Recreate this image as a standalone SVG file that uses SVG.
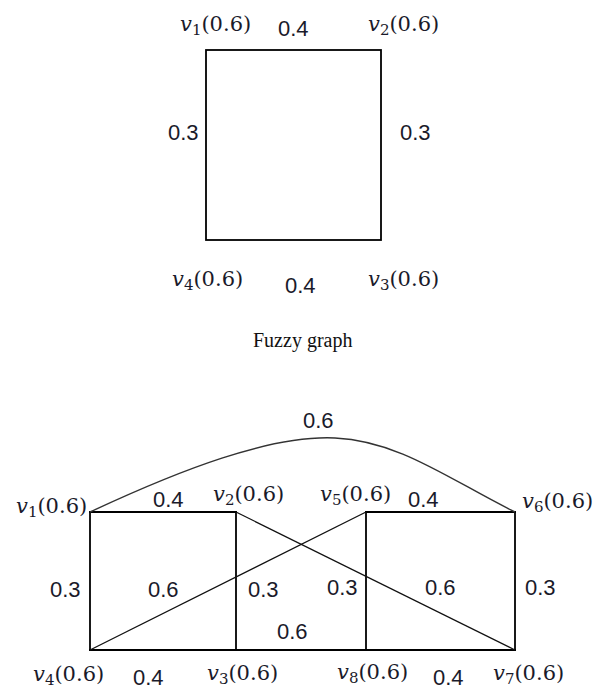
<svg xmlns="http://www.w3.org/2000/svg" width="599" height="689" viewBox="0 0 599 689">
<style>
.e{stroke:#000;stroke-width:1.8;fill:none;stroke-linecap:square}
.d{stroke:#111;stroke-width:1.3;fill:none}
.c{stroke:#333;stroke-width:1.4;fill:none}
.v{font-family:"DejaVu Serif","Liberation Serif",serif;font-size:21px;fill:#1a1a2a}
.v .i{font-style:italic}
.w{font-family:"Liberation Sans",Arial,sans-serif;font-size:22px;fill:#1a1a2a}
.t{font-family:"Liberation Serif","Times New Roman",serif;font-size:20px;fill:#111}
</style>
<rect width="599" height="689" fill="#fff"/>
<g id="connectors">
<rect class="e" x="206" y="50" width="175" height="190"/>
<line class="e" x1="90" y1="512" x2="236" y2="512"/>
<line class="e" x1="366" y1="512" x2="515" y2="512"/>
<line class="e" x1="90" y1="650" x2="515" y2="650"/>
<line class="e" x1="90" y1="512" x2="90" y2="650"/>
<line class="e" x1="236" y1="512" x2="236" y2="650"/>
<line class="e" x1="366" y1="512" x2="366" y2="650"/>
<line class="e" x1="515" y1="512" x2="515" y2="650"/>
<line class="d" x1="236" y1="512" x2="515" y2="650"/>
<line class="d" x1="366" y1="512" x2="90" y2="650"/>
<path class="c" d="M90,512 C180,470 270,435 335,438 C400,441 450,480 515,512"/>
<g class="w">
<text x="278" y="36">0.4</text>
<text x="168" y="140">0.3</text>
<text x="400" y="140">0.3</text>
<text x="285" y="293">0.4</text>
<text x="303" y="428">0.6</text>
<text x="153" y="507">0.4</text>
<text x="408" y="507">0.4</text>
<text x="50" y="597">0.3</text>
<text x="148" y="597">0.6</text>
<text x="248" y="597">0.3</text>
<text x="327" y="595">0.3</text>
<text x="425" y="595">0.6</text>
<text x="525" y="595">0.3</text>
<text x="277" y="639">0.6</text>
<text x="133" y="685">0.4</text>
<text x="433" y="685">0.4</text>
</g>
</g>
<g id="g1-v1"><text class="v" x="180" y="31"><tspan class="i">v</tspan><tspan font-size="15" dy="4">1</tspan><tspan dy="-4">(0.6)</tspan></text></g>
<g id="g1-v2"><text class="v" x="368" y="31"><tspan class="i">v</tspan><tspan font-size="15" dy="4">2</tspan><tspan dy="-4">(0.6)</tspan></text></g>
<g id="g1-v3"><text class="v" x="368" y="286"><tspan class="i">v</tspan><tspan font-size="15" dy="4">3</tspan><tspan dy="-4">(0.6)</tspan></text></g>
<g id="g1-v4"><text class="v" x="172" y="286"><tspan class="i">v</tspan><tspan font-size="15" dy="4">4</tspan><tspan dy="-4">(0.6)</tspan></text></g>
<text id="caption" class="t" x="253" y="347">Fuzzy graph</text>
<g id="g2-v1"><text class="v" x="16" y="513"><tspan class="i">v</tspan><tspan font-size="15" dy="4">1</tspan><tspan dy="-4">(0.6)</tspan></text></g>
<g id="g2-v2"><text class="v" x="213" y="501"><tspan class="i">v</tspan><tspan font-size="15" dy="4">2</tspan><tspan dy="-4">(0.6)</tspan></text></g>
<g id="g2-v3"><text class="v" x="207" y="680"><tspan class="i">v</tspan><tspan font-size="15" dy="4">3</tspan><tspan dy="-4">(0.6)</tspan></text></g>
<g id="g2-v4"><text class="v" x="33" y="681"><tspan class="i">v</tspan><tspan font-size="15" dy="4">4</tspan><tspan dy="-4">(0.6)</tspan></text></g>
<g id="g2-v5"><text class="v" x="320" y="501"><tspan class="i">v</tspan><tspan font-size="15" dy="4">5</tspan><tspan dy="-4">(0.6)</tspan></text></g>
<g id="g2-v6"><text class="v" x="522" y="508"><tspan class="i">v</tspan><tspan font-size="15" dy="4">6</tspan><tspan dy="-4">(0.6)</tspan></text></g>
<g id="g2-v7"><text class="v" x="493" y="680"><tspan class="i">v</tspan><tspan font-size="15" dy="4">7</tspan><tspan dy="-4">(0.6)</tspan></text></g>
<g id="g2-v8"><text class="v" x="337" y="679"><tspan class="i">v</tspan><tspan font-size="15" dy="4">8</tspan><tspan dy="-4">(0.6)</tspan></text></g>
</svg>
